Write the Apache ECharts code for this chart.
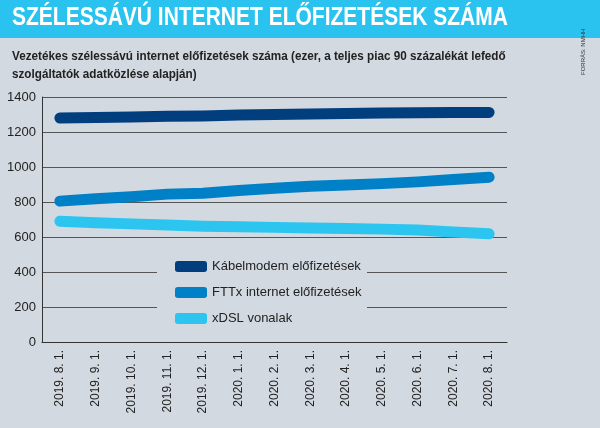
<!DOCTYPE html>
<html lang="hu">
<head>
<meta charset="UTF-8">
<title>Szélessávú internet</title>
<script src="https://cdn.jsdelivr.net/npm/echarts@6/dist/echarts.min.js"></script>
<style>body{margin:0;background:#d3d9e0}</style>
</head>
<body>
<div id="main" style="width:600px;height:428px;"></div>
<script>
const categories = ['2019. 8. 1.','2019. 9. 1.','2019. 10. 1.','2019. 11. 1.','2019. 12. 1.','2020. 1. 1.','2020. 2. 1.','2020. 3. 1.','2020. 4. 1.','2020. 5. 1.','2020. 6. 1.','2020. 7. 1.','2020. 8. 1.'];
const kabel = [1280,1283,1286,1290,1292,1297,1300,1303,1306,1308,1310,1311,1312];
const fttx = [805,818,830,845,850,866,878,890,897,905,915,928,942];
const xdsl = [690,682,675,668,662,658,655,652,648,645,640,628,618];

const chart = echarts.init(document.getElementById('main'));
const font = 'Liberation Sans, Arial';
function line(name, data, color) {
  return { name: name, type: 'line', data: data, symbol: 'none', z: 3,
    lineStyle: { width: 11, color: color, cap: 'round', join: 'round' }, itemStyle: { color: color } };
}
chart.setOption({
  backgroundColor: '#d3d9e0',
  textStyle: { fontFamily: font },
  graphic: [
    { type: 'rect', shape: { x: 0, y: 0, width: 600, height: 38 }, style: { fill: '#2ac3ef' } },
    { type: 'text', x: 12, y: 6, scaleX: 0.84, style: { text: 'SZÉLESSÁVÚ INTERNET ELŐFIZETÉSEK SZÁMA', fill: '#fff', font: 'bold 25px ' + font } },
    { type: 'text', x: 12, y: 47, scaleX: 0.9, style: { text: 'Vezetékes szélessávú internet előfizetések száma (ezer, a teljes piac 90 százalékát lefedő\nszolgáltatók adatközlése alapján)', fill: '#222', font: 'bold 13px ' + font, lineHeight: 18 } },
    { type: 'text', x: 580, y: 75, rotation: Math.PI / 2, style: { text: 'FORRÁS: NMHH', fill: '#333', font: '6px ' + font } },
    { type: 'rect', z: 2, shape: { x: 157, y: 252, width: 210, height: 74 }, style: { fill: '#d3d9e0' } }
  ],
  legend: {
    orient: 'vertical', left: 170, top: 255, itemWidth: 32, itemHeight: 11, itemGap: 13,
    icon: 'roundRect', textStyle: { fontSize: 13, color: '#222', fontFamily: font },
    data: ['Kábelmodem előfizetések', 'FTTx internet előfizetések', 'xDSL vonalak']
  },
  grid: { left: 42, right: 93, top: 97, bottom: 86 },
  xAxis: {
    type: 'category', data: categories, boundaryGap: true,
    axisLine: { lineStyle: { color: '#333' } },
    axisTick: { alignWithLabel: true, lineStyle: { color: '#333' } },
    axisLabel: { rotate: 90, fontSize: 12, color: '#222', margin: 8, interval: 0 }
  },
  yAxis: {
    type: 'value', min: 0, max: 1400, interval: 200,
    axisLine: { show: true, lineStyle: { color: '#333' } },
    axisLabel: { fontSize: 13, color: '#222', margin: 6, formatter: v => String(v) },
    splitLine: { lineStyle: { color: '#555', width: 1 } }
  },
  series: [
    line('Kábelmodem előfizetések', kabel, '#003e7e'),
    line('FTTx internet előfizetések', fttx, '#0080c6'),
    line('xDSL vonalak', xdsl, '#2cc5ef')
  ]
});
</script>
</body>
</html>
